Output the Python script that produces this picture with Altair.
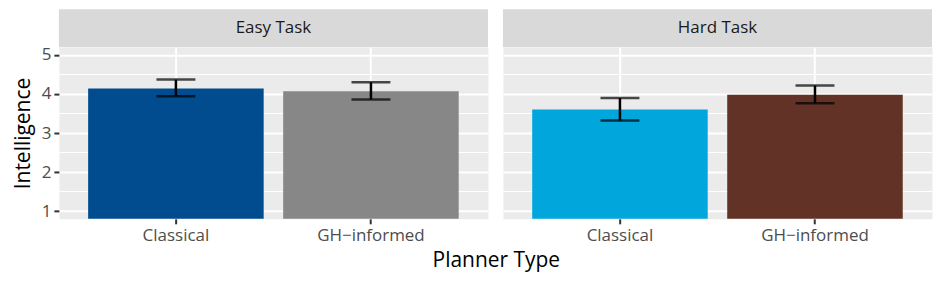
import altair as alt
import pandas as pd

tasks = ["Easy Task", "Easy Task", "Hard Task", "Hard Task"]
planners = ["Classical", "GH\u2212informed", "Classical", "GH\u2212informed"]
means = [4.14, 4.07, 3.60, 3.98]
lows = [3.94, 3.86, 3.32, 3.76]
highs = [4.37, 4.30, 3.90, 4.22]
colors = ["#004C8F", "#878787", "#00A6DC", "#633226"]
y_ticks = [1, 2, 3, 4, 5]
y_minor = [1.5, 2.5, 3.5, 4.5]

FONT = "Open Sans"
W = 430
H = 172
STRIP = 38

df = pd.DataFrame({"task": tasks, "planner": planners, "mean": means,
                   "lo": lows, "hi": highs, "color": colors})

yscale = alt.Scale(domain=[0.8, 5.2], nice=False, zero=False)
xscale = alt.Scale(paddingInner=0.1, paddingOuter=0.15)


def panel(task, first):
    d = df[df["task"] == task]
    if first:
        yaxis = alt.Axis(values=y_ticks, title="Intelligence", grid=True,
                         gridColor="white", gridWidth=2, domain=False,
                         tickColor="#333333", tickWidth=2, tickSize=5,
                         labelColor="#4D4D4D", labelFontSize=17, labelFont=FONT,
                         labelPadding=3, titleFont=FONT, titleFontSize=21,
                         titleFontWeight="normal", titleColor="black",
                         titlePadding=8)
    else:
        yaxis = alt.Axis(values=y_ticks, title=None, grid=True,
                         gridColor="white", gridWidth=2, domain=False,
                         ticks=False, labels=False)
    xaxis = alt.Axis(title=None, grid=True, gridColor="white", gridWidth=2,
                     bandPosition=0.5, domain=False, tickColor="#333333",
                     tickWidth=2, tickSize=5, labelColor="#4D4D4D",
                     labelFontSize=17, labelFont=FONT, labelPadding=4,
                     labelAngle=0)
    base = alt.Chart(d).encode(
        x=alt.X("planner:N", scale=xscale, axis=xaxis, sort=None)
    )
    minor = alt.Chart(pd.DataFrame({"v": y_minor})).mark_rule(
        color="white", strokeWidth=1
    ).encode(y=alt.Y("v:Q", scale=yscale, axis=yaxis))
    bars = base.mark_bar(clip=True).encode(
        y=alt.Y("mean:Q", scale=yscale, axis=yaxis),
        color=alt.Color("color:N", scale=None),
    )
    rule = base.mark_rule(color="black", strokeWidth=2.5).encode(
        y=alt.Y("lo:Q", scale=yscale), y2="hi:Q"
    )
    cap_lo = base.mark_tick(color="black", thickness=2.5, size=39).encode(
        y=alt.Y("lo:Q", scale=yscale)
    )
    cap_hi = base.mark_tick(color="black", thickness=2.5, size=39).encode(
        y=alt.Y("hi:Q", scale=yscale)
    )
    sd = pd.DataFrame({"task": [task]})
    strip = alt.Chart(sd).mark_rect(color="#D9D9D9", clip=False).encode(
        x=alt.value(0), x2=alt.value(W), y=alt.value(-STRIP), y2=alt.value(0)
    )
    strip_text = alt.Chart(sd).mark_text(
        font=FONT, fontSize=17, color="#1A1A1A", baseline="middle",
        align="center", clip=False
    ).encode(x=alt.value(W / 2), y=alt.value(-STRIP / 2), text="task:N")
    return alt.layer(minor, bars, rule, cap_lo, cap_hi, strip, strip_text).properties(
        width=W, height=H,
        view=alt.ViewBackground(fill="#EBEBEB", stroke="transparent"),
    )


chart = alt.hconcat(panel("Easy Task", True), panel("Hard Task", False),
                    spacing=13).properties(
    title=alt.TitleParams("Planner Type", orient="bottom", anchor="middle",
                          font=FONT, fontSize=21, fontWeight="normal",
                          color="black", offset=6, dx=24)
).configure_view(fill="#EBEBEB", stroke="transparent").configure(
    padding={"left": 3, "top": 0, "right": 0, "bottom": 0}
)

chart.save("out.html", embed_options={"renderer": "svg", "actions": False})
